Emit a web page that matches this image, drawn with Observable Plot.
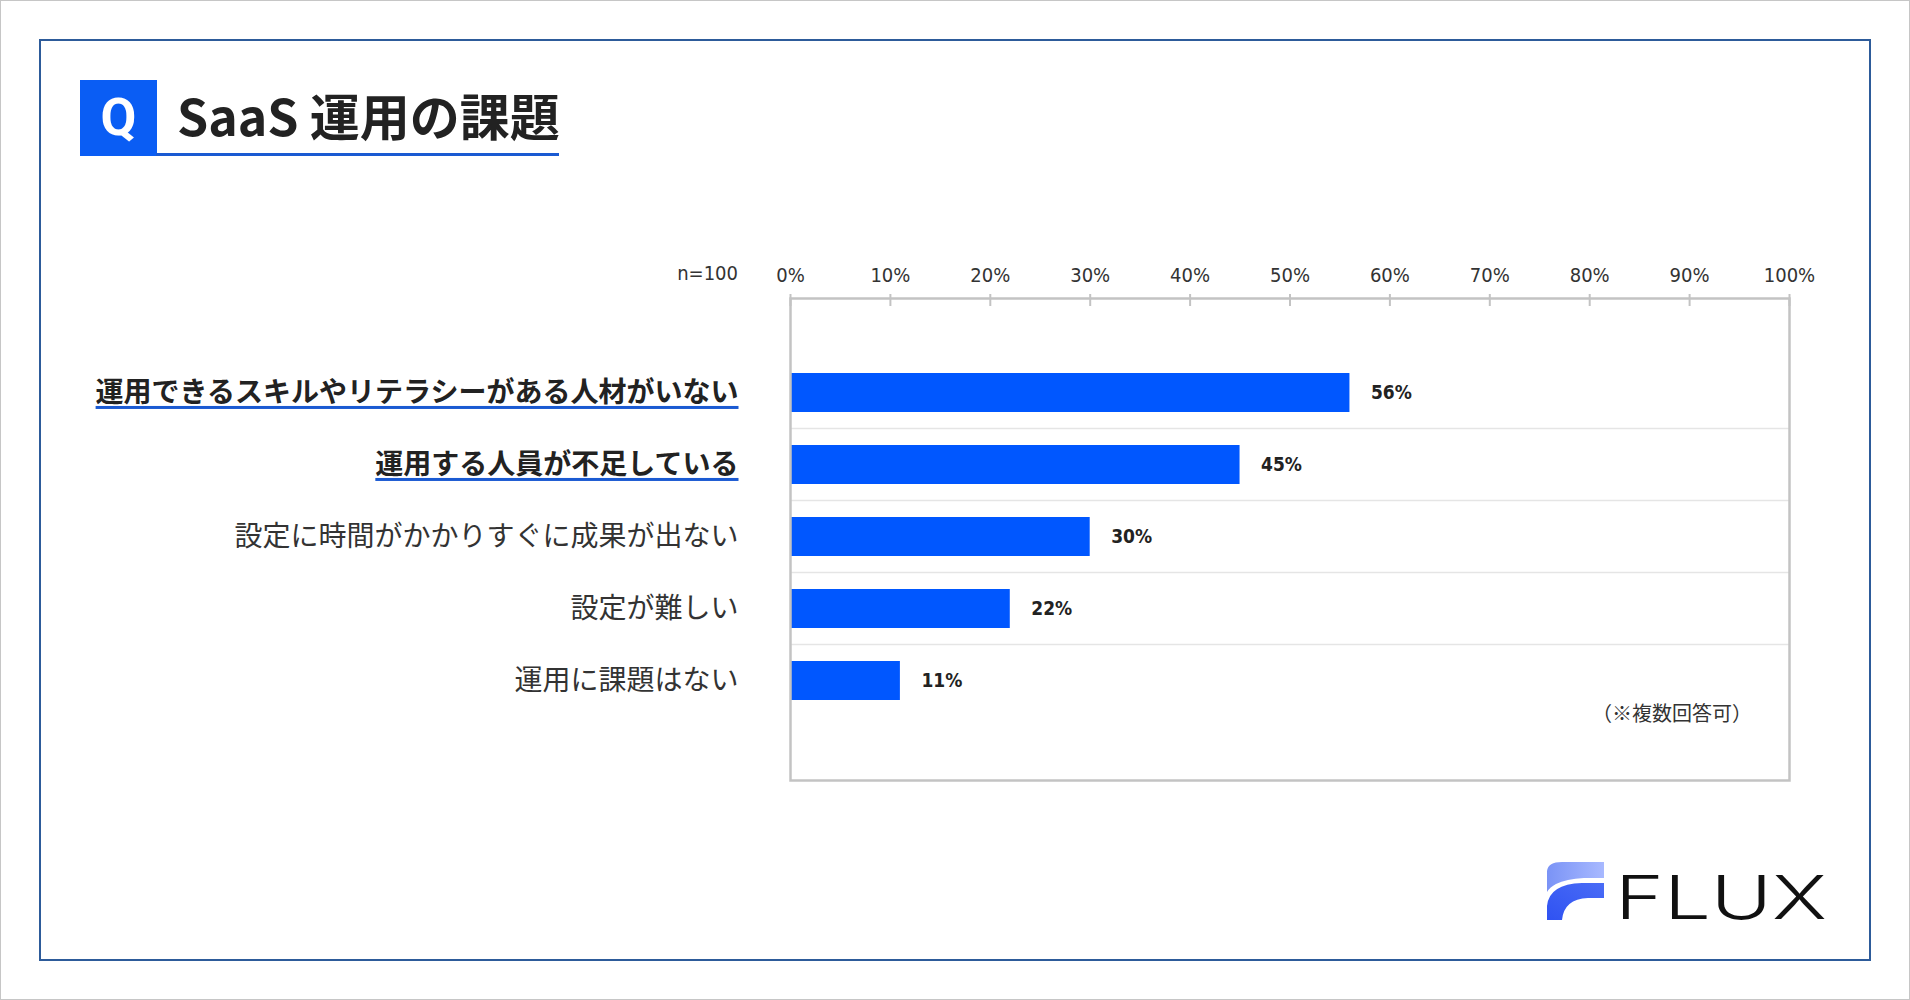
<!DOCTYPE html>
<html lang="ja">
<head>
<meta charset="utf-8">
<script src="https://cdn.jsdelivr.net/npm/d3@7"></script>
<script src="https://cdn.jsdelivr.net/npm/@observablehq/plot@0.6"></script>
<style>
  html, body { margin: 0; padding: 0; background: #fff; }
  #page { position: relative; width: 1910px; height: 1000px; overflow: hidden; background: #fff; }
  #edge { position: absolute; left: 0; top: 0; width: 1910px; height: 1000px; box-sizing: border-box; border: 1.5px solid #c6c6c6; }
  #frame { position: absolute; left: 39px; top: 39px; width: 1832px; height: 922px; box-sizing: border-box; border: 2.5px solid #2d5b9a; }
  #chart { position: absolute; left: 0; top: 0; }
  #qbox { position: absolute; left: 80px; top: 80px; width: 77px; height: 76px; background: #0a5df4;
          color: #fff; font-family: Roboto, "DejaVu Sans", sans-serif; font-weight: 700; font-size: 52px;
          line-height: 76px; text-align: center; }
  #title { position: absolute; left: 177px; top: 84px; font-family: "Noto Sans CJK JP", sans-serif; font-weight: 700;
           font-size: 50px; line-height: 60px; color: #222; white-space: nowrap; }
  #titleline { position: absolute; left: 156px; top: 152.5px; width: 403px; height: 3.5px; background: #1a5ad2; }
  #nlabel { position: absolute; right: calc(1910px - 738px); top: 259px;
            font-family: "DejaVu Sans Condensed", "DejaVu Sans", sans-serif;
            font-size: 20px; line-height: 28px; color: #333; white-space: nowrap; }
  #note { position: absolute; right: calc(1910px - 1752px); top: 698px; font-family: "Noto Sans CJK JP", sans-serif;
          font-size: 20px; line-height: 30px; color: #333; white-space: nowrap; }
  #logo { position: absolute; left: 0; top: 0; }
</style>
</head>
<body>
<div id="page">
  <div id="edge"></div>
  <div id="frame"></div>
  <div id="chart"></div>
  <div id="qbox">Q</div>
  <div id="title"></div>
  <div id="titleline"></div>
  <div id="nlabel"></div>
  <div id="note"></div>
  <svg id="logo" width="1910" height="1000" viewBox="0 0 1910 1000">
    <defs>
      <linearGradient id="gTop" x1="0" y1="0" x2="1" y2="0">
        <stop offset="0" stop-color="#7a93f6"/>
        <stop offset="1" stop-color="#a8b9ff"/>
      </linearGradient>
      <linearGradient id="gBot" x1="0" y1="1" x2="1" y2="0">
        <stop offset="0" stop-color="#2f52f2"/>
        <stop offset="1" stop-color="#4a6cf6"/>
      </linearGradient>
    </defs>
    <path d="M1547,892 L1547,871 Q1548,862 1562,862 L1604,862 L1604,878 L1584,878 Q1566,879 1556,884 Q1550,887 1547,892 Z" fill="url(#gTop)"/>
    <path d="M1604,883 L1604,898 L1588,898 Q1564,899 1562,920 L1547,920 L1547,906 Q1549,884 1582,883 Z" fill="url(#gBot)"/>
    <text id="fluxText" x="1615" y="919" textLength="212" lengthAdjust="spacingAndGlyphs"
          font-family="Inter, Lato, 'DejaVu Sans', sans-serif" font-weight="300" font-size="60" fill="#111">FLUX</text>
  </svg>
</div>
<script>
// ---- data ----
const titleText = "SaaS 運用の課題";
const sampleLabel = "n=100";
const noteText = "（※複数回答可）";
const categories = [
  "運用できるスキルやリテラシーがある人材がいない",
  "運用する人員が不足している",
  "設定に時間がかかりすぐに成果が出ない",
  "設定が難しい",
  "運用に課題はない"
];
const values = [56, 45, 30, 22, 11];
const emphasized = [
  "運用できるスキルやリテラシーがある人材がいない",
  "運用する人員が不足している"
];
const xTicks = [0, 10, 20, 30, 40, 50, 60, 70, 80, 90, 100];
const tickLabels = ["0%", "10%", "20%", "30%", "40%", "50%", "60%", "70%", "80%", "90%", "100%"];

document.getElementById("title").textContent = titleText;
document.getElementById("nlabel").textContent = sampleLabel;
document.getElementById("note").textContent = noteText;

const rows = categories.map((c, i) => ({label: c, value: values[i], bold: emphasized.includes(c)}));

// ---- layout ----
const W = 1910, H = 1000;
const mLeft = 790, mRight = 121, mTop = 298, mBottom = 220;
const bandTop = 371, bandBottom = 703, padInner = 0.452;
const step = (bandBottom - bandTop) / (categories.length - padInner);

const numFont = "'DejaVu Sans Condensed', 'DejaVu Sans', sans-serif";
const jpFont = "'Noto Sans CJK JP', sans-serif";

const chart = Plot.plot({
  width: W,
  height: H,
  marginLeft: mLeft,
  marginRight: mRight,
  marginTop: mTop,
  marginBottom: mBottom,
  style: {background: "transparent", fontFamily: numFont},
  x: {domain: [0, 100], axis: null, label: null},
  y: {domain: categories, range: [bandTop, bandBottom], paddingInner: padInner, paddingOuter: 0, axis: null, label: null},
  marks: [
    Plot.ruleY(categories.slice(1), {y: d => d, dy: -step / 2, stroke: "#e5e5e5", strokeWidth: 1.5}),
    Plot.barX(rows, {x: "value", y: "label", fill: "#0057ff"}),
    Plot.frame({stroke: "#c3c3c3", strokeWidth: 2.5}),
    Plot.axisX({anchor: "top", ticks: xTicks, tickSize: 12, dy: 7, tickFormat: () => "", label: null,
                stroke: "#c3c3c3", strokeWidth: 2}),
    Plot.axisX({anchor: "top", ticks: xTicks, tickSize: 0, tickPadding: 17, label: null,
                tickFormat: d => tickLabels[xTicks.indexOf(d)], fontSize: 20, fill: "#333", fontFamily: numFont}),
    Plot.text(rows.filter(d => d.bold), {y: "label", text: "label", frameAnchor: "left", textAnchor: "end", dx: -52,
              fontFamily: jpFont, fontWeight: 700, fontSize: 28, fill: "#222"}),
    Plot.text(rows.filter(d => !d.bold), {y: "label", text: "label", frameAnchor: "left", textAnchor: "end", dx: -52,
              fontFamily: jpFont, fontWeight: 400, fontSize: 28, fill: "#333"}),
    Plot.text(rows, {x: "value", y: "label", text: d => d.value + "%", textAnchor: "start", dx: 21,
              fontFamily: numFont, fontWeight: 700, fontSize: 19, fill: "#222"})
  ]
});
document.getElementById("chart").appendChild(chart);

// underline emphasized labels (measured from the rendered text)
const svgNS = "http://www.w3.org/2000/svg";
const chartBox = chart.getBoundingClientRect();
chart.querySelectorAll("text").forEach(t => {
  if (!emphasized.includes(t.textContent)) return;
  const r = t.getBoundingClientRect();
  const line = document.createElementNS(svgNS, "rect");
  line.setAttribute("x", r.left - chartBox.left);
  line.setAttribute("y", (r.top + r.bottom) / 2 - chartBox.top + 16);
  line.setAttribute("width", r.width);
  line.setAttribute("height", 3);
  line.setAttribute("fill", "#1a5ad2");
  chart.appendChild(line);
});
</script>
</body>
</html>
